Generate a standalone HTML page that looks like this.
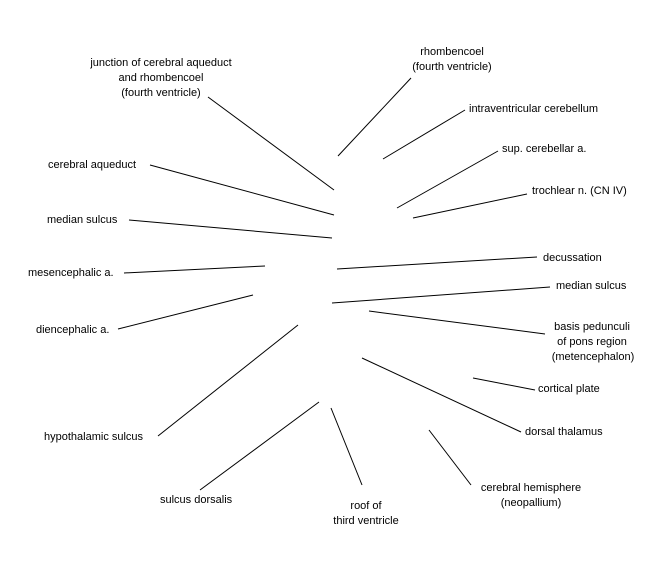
<!DOCTYPE html>
<html><head><meta charset="utf-8"><style>
html,body{margin:0;padding:0;background:#fff;}
svg{display:block;}
text{font-family:"Liberation Sans",Arial,sans-serif;font-size:11px;fill:#000;}
line{stroke:#000;stroke-width:1;}
</style></head><body>
<svg width="650" height="580" viewBox="0 0 650 580" xmlns="http://www.w3.org/2000/svg">
<g>
<line x1="208" y1="97" x2="334" y2="190"/>
<line x1="150" y1="165" x2="334" y2="215"/>
<line x1="129" y1="220" x2="332" y2="238"/>
<line x1="124" y1="273" x2="265" y2="266"/>
<line x1="118" y1="329" x2="253" y2="295"/>
<line x1="158" y1="436" x2="298" y2="325"/>
<line x1="200" y1="490" x2="319" y2="402"/>
<line x1="362" y1="485" x2="331" y2="408"/>
<line x1="471" y1="485" x2="429" y2="430"/>
<line x1="521" y1="432" x2="362" y2="358"/>
<line x1="535" y1="390" x2="473" y2="378"/>
<line x1="545" y1="334" x2="369" y2="311"/>
<line x1="550" y1="287" x2="332" y2="303"/>
<line x1="537" y1="257" x2="337" y2="269"/>
<line x1="527" y1="194" x2="413" y2="218"/>
<line x1="498" y1="151" x2="397" y2="208"/>
<line x1="465" y1="110" x2="383" y2="159"/>
<line x1="411" y1="78" x2="338" y2="156"/>
</g>
<g text-anchor="middle">
<text x="161" y="66">junction of cerebral aqueduct</text>
<text x="161" y="81">and rhombencoel</text>
<text x="161" y="96">(fourth ventricle)</text>
<text x="452" y="55">rhombencoel</text>
<text x="452" y="70">(fourth ventricle)</text>
<text x="592" y="330">basis pedunculi</text>
<text x="592" y="345">of pons region</text>
<text x="593" y="360">(metencephalon)</text>
<text x="531" y="491">cerebral hemisphere</text>
<text x="531" y="506">(neopallium)</text>
<text x="366" y="509">roof of</text>
<text x="366" y="524">third ventricle</text>
</g>
<g>
<text x="48" y="168">cerebral aqueduct</text>
<text x="47" y="223">median sulcus</text>
<text x="28" y="276">mesencephalic a.</text>
<text x="36" y="333">diencephalic a.</text>
<text x="44" y="440">hypothalamic sulcus</text>
<text x="160" y="503">sulcus dorsalis</text>
<text x="469" y="112">intraventricular cerebellum</text>
<text x="502" y="152">sup. cerebellar a.</text>
<text x="532" y="194">trochlear n. (CN IV)</text>
<text x="543" y="261">decussation</text>
<text x="556" y="289">median sulcus</text>
<text x="538" y="392">cortical plate</text>
<text x="525" y="435">dorsal thalamus</text>
</g>
</svg>
</body></html>
